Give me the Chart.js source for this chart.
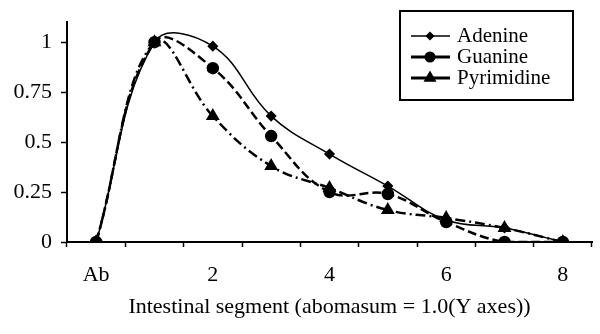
<!DOCTYPE html>
<html>
<head>
<meta charset="utf-8">
<script src="https://cdn.jsdelivr.net/npm/chart.js@4.4.1/dist/chart.umd.min.js"></script>
<style>
body { margin: 0; background: #fff; }
canvas { display: block; }
</style>
</head>
<body>
<canvas id="mycanvas" width="600" height="334"></canvas>
<script>
// segmenty jelita (co drugi opis pusty, jak w oryginale)
var segmenty = ['Ab', '', '2', '', '4', '', '6', '', '8'];
var adenina = [0, 1, 0.98, 0.63, 0.44, 0.28, 0.11, 0.07, 0];
var guanina = [0, 1, 0.87, 0.53, 0.25, 0.24, 0.10, 0, 0];
var pirymidyny = [0, 1, 0.63, 0.38, 0.27, 0.16, 0.12, 0.07, 0];
var osY = [0, 0.25, 0.5, 0.75, 1];

var czcionka = "'Liberation Serif', 'Times New Roman', serif";

// legenda w ramce, rysowana recznie
var legenda = {
	id: 'legenda',
	afterDraw: function(chart) {
		var ctx = chart.ctx;
		ctx.save();
		ctx.strokeStyle = '#000';
		ctx.fillStyle = '#000';
		ctx.lineWidth = 2;
		ctx.setLineDash([]);
		ctx.strokeRect(400, 11, 173, 89);
		chart.data.datasets.forEach(function(ds, i) {
			var y = 36 + i * 21;
			ctx.beginPath();
			ctx.lineWidth = ds.legendWidth;
			ctx.moveTo(411, y);
			ctx.lineTo(450, y);
			ctx.stroke();
			Chart.helpers.drawPoint(ctx, {
				pointStyle: ds.pointStyle,
				radius: ds.pointRadius - 1,
				borderWidth: 1,
				rotation: 0
			}, 430, y);
			ctx.font = '21px ' + czcionka;
			ctx.textBaseline = 'middle';
			ctx.textAlign = 'left';
			ctx.fillText(ds.label, 457, y);
		});
		ctx.restore();
	}
};

var chartdata = {
	labels: segmenty,
	datasets: [
		{
			label: 'Adenine',
			data: adenina,
			borderColor: '#000',
			backgroundColor: '#000',
			borderWidth: 1.5,
			legendWidth: 1.5,
			pointStyle: 'rectRot',
			pointRadius: 4.5,
			tension: 0.4
		},
		{
			label: 'Guanine',
			data: guanina,
			borderColor: '#000',
			backgroundColor: '#000',
			borderWidth: 2.5,
			borderDash: [9, 4],
			legendWidth: 3,
			pointStyle: 'circle',
			pointRadius: 5,
			tension: 0.4
		},
		{
			label: 'Pyrimidine',
			data: pirymidyny,
			borderColor: '#000',
			backgroundColor: '#000',
			borderWidth: 2.5,
			borderDash: [10, 4, 2, 4],
			legendWidth: 3,
			pointStyle: 'triangle',
			pointRadius: 5.5,
			tension: 0.4
		}
	]
};

var ctx = document.getElementById('mycanvas');

var wykres = new Chart(ctx, {
	type: 'line',
	data: chartdata,
	plugins: [legenda],
	options: {
		responsive: false,
		animation: false,
		layout: { padding: { top: 19, right: 0, bottom: 0, left: 0 } },
		plugins: {
			legend: { display: false },
			tooltip: { enabled: false }
		},
		elements: {
			point: { borderWidth: 1, borderColor: '#000', backgroundColor: '#000' }
		},
		scales: {
			x: {
				type: 'category',
				offset: true,
				grid: { offset: true, drawOnChartArea: false, drawTicks: true, tickLength: 5, tickColor: '#000', tickWidth: 1.5 },
				border: { color: '#000', width: 2 },
				ticks: { color: '#000', font: { family: czcionka, size: 22 }, padding: 15, autoSkip: false, maxRotation: 0 },
				title: {
					display: true,
					text: 'Intestinal segment (abomasum = 1.0(Y axes))',
					color: '#000',
					font: { family: czcionka, size: 22 },
					padding: { top: 0, bottom: 14 }
				},
				afterFit: function(s) { s.height = 92; }
			},
			y: {
				min: 0,
				max: 1.1,
				grid: { drawOnChartArea: false, drawTicks: true, tickLength: 6, tickColor: '#000', tickWidth: 1.5 },
				border: { color: '#000', width: 2 },
				ticks: {
					color: '#000',
					font: { family: czcionka, size: 22 },
					padding: 9,
					callback: function(v) { return String(v); }
				},
				afterBuildTicks: function(s) {
					s.ticks = osY.map(function(v) { return { value: v }; });
				},
				afterFit: function(s) { s.width = 67; }
			}
		}
	}
});
</script>
</body>
</html>
